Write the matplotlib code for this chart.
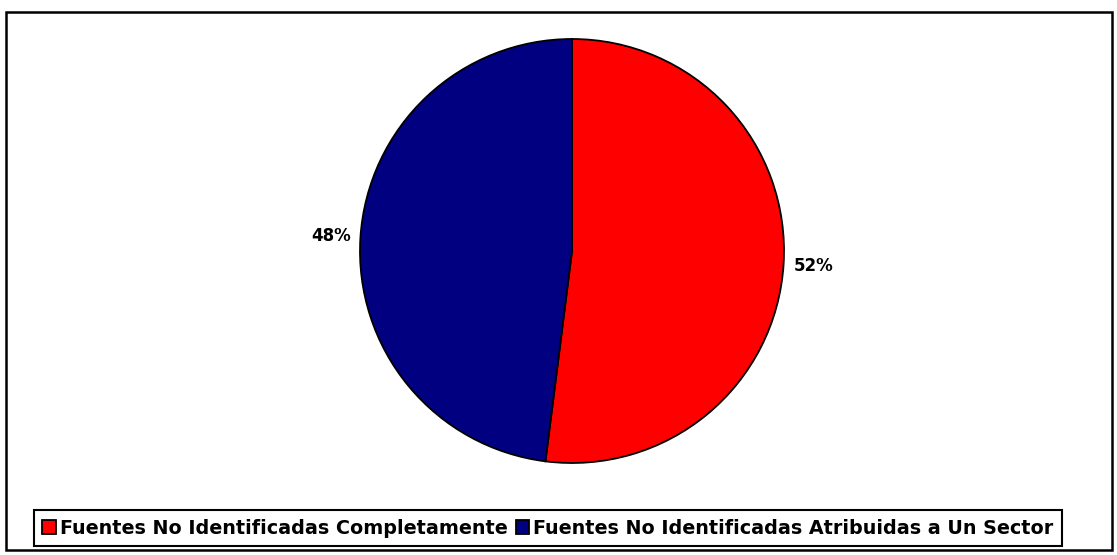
import matplotlib.pyplot as plt
from matplotlib.patches import Rectangle

plt.rcParams['font.family'] = ['DejaVu Sans']

labels = ['Fuentes No Identificadas Completamente',
          'Fuentes No Identificadas Atribuidas a Un Sector']
values = [52, 48]
colors = ['#ff0000', '#000080']

W, H = 1117, 555
fig = plt.figure(figsize=(W / 100, H / 100), dpi=100)

# pie centre ~ (572, 251) px, radius ~212 px
cx, cy, r = 572, 251, 212
ax = fig.add_axes([(cx - r) / W, (H - cy - r) / H, 2 * r / W, 2 * r / H])
wedges, texts, autotexts = ax.pie(
    values, colors=colors, startangle=90, counterclock=False,
    autopct='%1.0f%%', pctdistance=1.14, radius=1,
    wedgeprops=dict(edgecolor='black', linewidth=1.3),
    textprops=dict(fontsize=12, fontweight='bold', color='black'))
ax.set_xlim(-1, 1)
ax.set_ylim(-1, 1)
ax.set_aspect('equal')
ax.axis('off')

leg = fig.legend(wedges, labels, loc='center', ncol=2,
                 bbox_to_anchor=(548 / W, 1 - 528 / H),
                 prop=dict(size=13.8, weight='bold'),
                 frameon=True, fancybox=False, shadow=False, framealpha=1,
                 handlelength=0.7, handleheight=0.7, handletextpad=0.2,
                 columnspacing=0.45, borderpad=0.42, borderaxespad=0)
leg.get_frame().set_edgecolor('black')
leg.get_frame().set_linewidth(1.5)

# outer chart border
fig.patches.append(Rectangle((6 / W, 1 - 550 / H), (1112 - 6) / W, (550 - 12) / H,
                             transform=fig.transFigure, fill=False,
                             edgecolor='black', linewidth=1.8))

fig.savefig('out.png', dpi=100, facecolor='white')
